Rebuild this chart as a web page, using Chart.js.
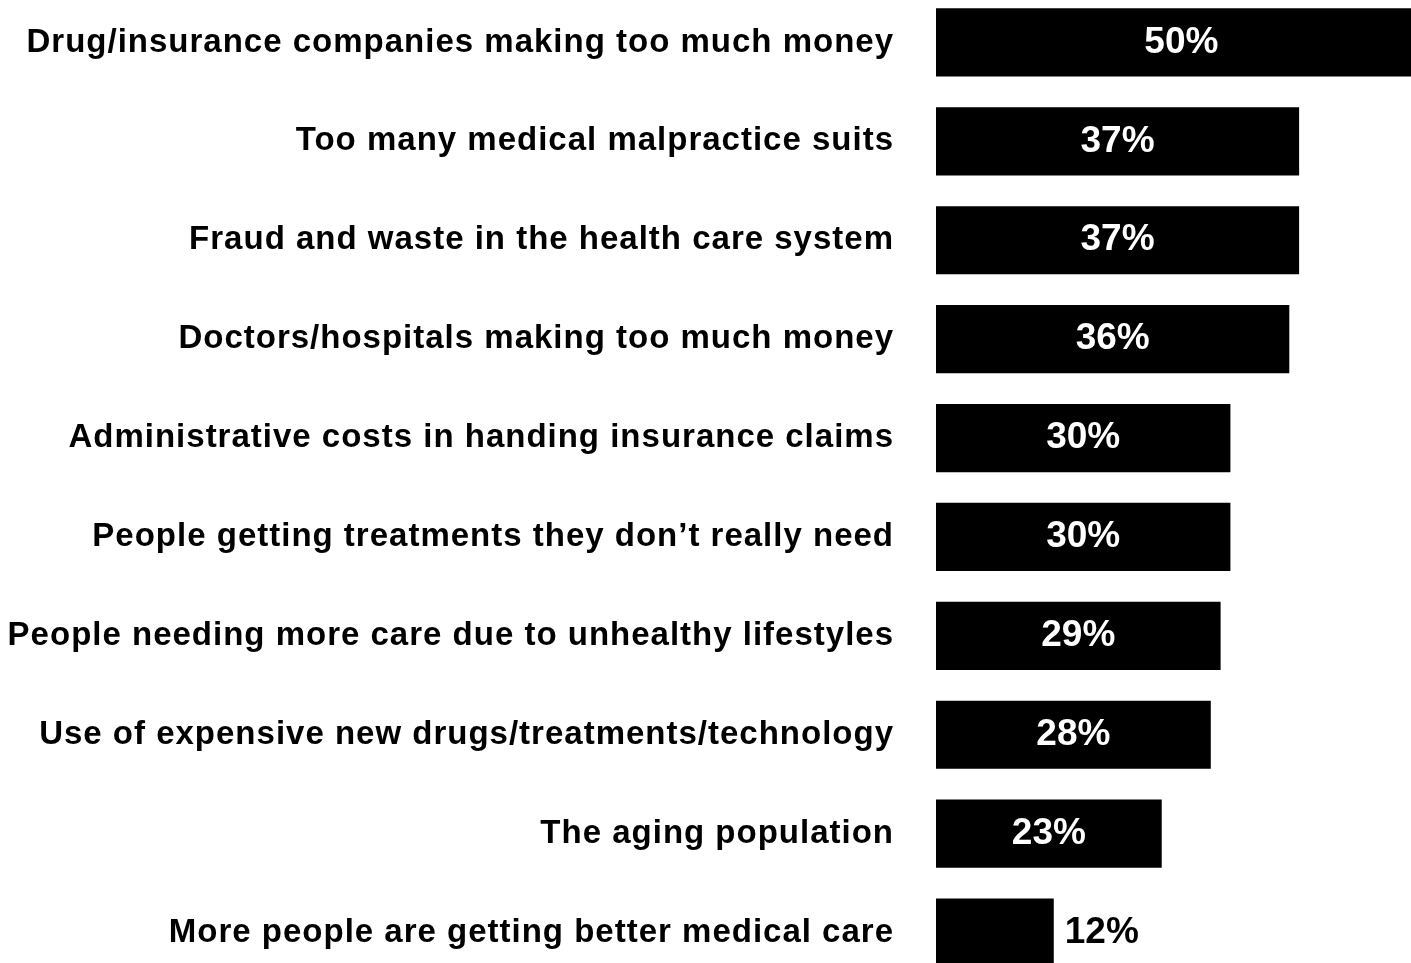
<!DOCTYPE html>
<html lang="en">
<head>
  <meta charset="UTF-8">
  <title>Health care cost drivers</title>
  <script src="https://cdn.jsdelivr.net/npm/chart.js"></script>
  <style>
    html, body {
      margin: 0;
      padding: 0;
      background: #ffffff;
      overflow: hidden;
    }
    .chart-container {
      position: absolute;
      left: 0;
      top: -7px;
      width: 1411px;
      height: 989px;
    }
  </style>
</head>

<body>
  <div class="chart-container">
    <canvas id="costChart"></canvas>
  </div>

  <script>
    const categories = [
      'Drug/insurance companies making too much money',
      'Too many medical malpractice suits',
      'Fraud and waste in the health care system',
      'Doctors/hospitals making too much money',
      'Administrative costs in handing insurance claims',
      'People getting treatments they don\u2019t really need',
      'People needing more care due to unhealthy lifestyles',
      'Use of expensive new drugs/treatments/technology',
      'The aging population',
      'More people are getting better medical care'
    ];
    const percentages = [50, 37, 37, 36, 30, 30, 29, 28, 23, 12];

    const FONT = "'Liberation Sans', Arial, Helvetica, sans-serif";

    // Category labels are set a little wide
    const labelSpacing = {
      id: 'labelSpacing',
      beforeDraw(chart) {
        chart.ctx.letterSpacing = '1px';
      }
    };

    // Writes the percentage on each bar; short bars get it outside in black
    const valueLabels = {
      id: 'valueLabels',
      afterDatasetsDraw(chart) {
        const ctx = chart.ctx;
        const xScale = chart.scales.x;
        const meta = chart.getDatasetMeta(0);
        ctx.save();
        ctx.letterSpacing = '0px';
        ctx.font = 'bold 37px ' + FONT;
        ctx.textBaseline = 'middle';
        meta.data.forEach(function(bar, i) {
          const value = percentages[i];
          const start = xScale.getPixelForValue(0);
          const end = xScale.getPixelForValue(value);
          const text = value + '%';
          if (value < 15) {
            ctx.fillStyle = '#000000';
            ctx.textAlign = 'left';
            ctx.fillText(text, end + 11, bar.y);
          } else {
            ctx.fillStyle = '#ffffff';
            ctx.textAlign = 'center';
            ctx.fillText(text, (start + end) / 2, bar.y);
          }
        });
        ctx.restore();
      }
    };

    document.addEventListener('DOMContentLoaded', function() {
      const ctx = document.getElementById('costChart').getContext('2d');
      new Chart(ctx, {
        type: 'bar',
        data: {
          labels: categories,
          datasets: [{
            data: percentages,
            backgroundColor: '#000000',
            borderWidth: 0,
            barPercentage: 0.69,
            categoryPercentage: 1.0
          }]
        },
        options: {
          indexAxis: 'y',
          responsive: true,
          maintainAspectRatio: false,
          animation: false,
          layout: {
            padding: 0
          },
          plugins: {
            legend: { display: false },
            tooltip: { enabled: false }
          },
          scales: {
            x: {
              display: false,
              min: 0,
              max: 48.4
            },
            y: {
              grid: {
                display: false,
                drawTicks: false
              },
              border: { display: false },
              ticks: {
                color: '#000000',
                font: {
                  family: FONT,
                  size: 33,
                  weight: 'bold'
                },
                padding: 42
              },
              afterFit: function(scale) {
                // fixed label column, and no extra room above/below the bars
                scale.width = 936;
                scale.paddingTop = 0;
                scale.paddingBottom = 0;
              }
            }
          }
        },
        plugins: [labelSpacing, valueLabels]
      });
    });
  </script>
</body>
</html>
